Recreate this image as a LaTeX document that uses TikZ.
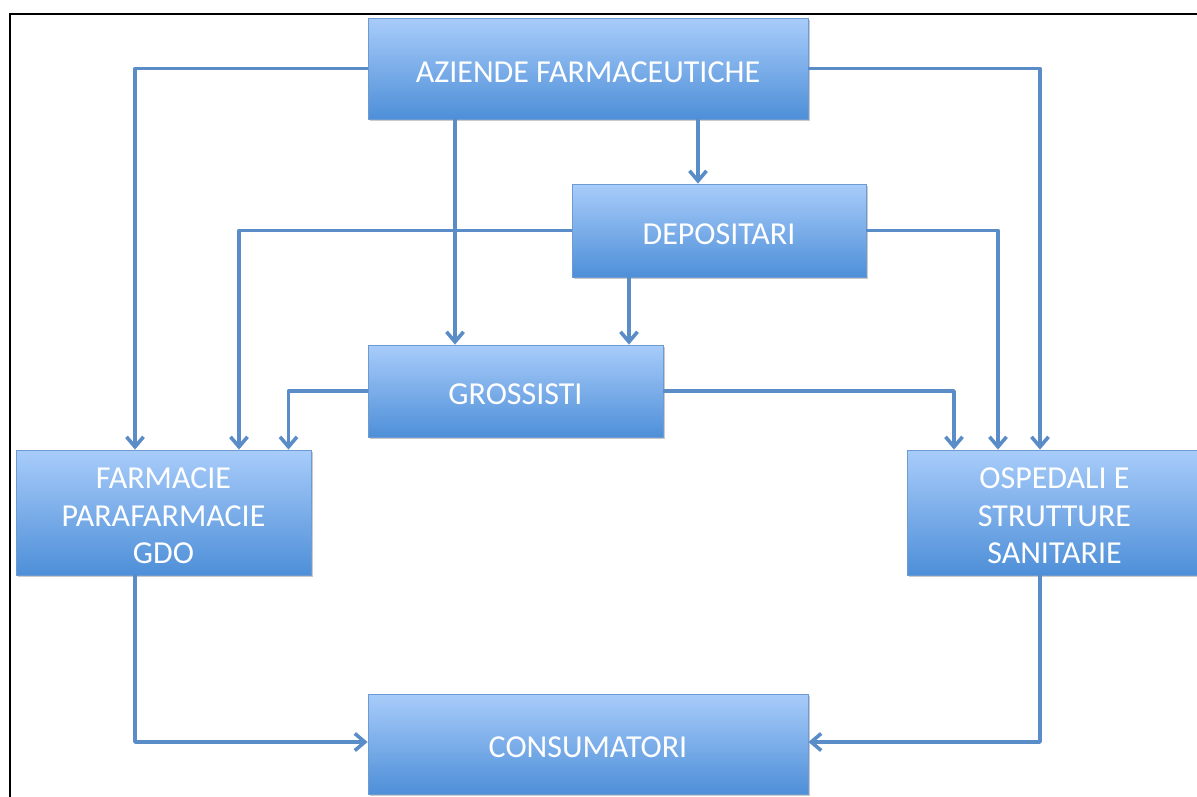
\documentclass[tikz,border=0pt]{standalone}
\usepackage{fontspec}
\setmainfont{Carlito}
\usetikzlibrary{arrows.meta,shadows,calc}
\definecolor{boxtop}{RGB}{168,204,250}
\definecolor{boxbot}{RGB}{78,143,216}
\definecolor{boxline}{RGB}{108,155,212}
\definecolor{conncol}{RGB}{90,140,200}
\begin{document}
\begin{tikzpicture}[x=1pt,y=-1pt,
  box/.style={rectangle, draw=boxline, line width=0.8pt, top color=boxtop, bottom color=boxbot,
    text=white, align=center, inner sep=0pt,
    font=\fontsize{32}{37.5}\selectfont,
    drop shadow={shadow xshift=1.5pt, shadow yshift=-2pt, opacity=0.35, fill=black!60}},
  onebox/.style={box, text height=27pt, text depth=0pt},
  boxtext/.style={text=white, align=center, inner sep=0pt,
    font=\fontsize{32}{37.5}\selectfont, yshift=-3.5pt},
  conn/.style={draw=conncol, line width=3.6pt, line join=round,
    -{Straight Barb[length=10pt, width=17pt, line width=3.6pt]}},
  frame/.style={draw=black, line width=2pt}]
\clip (0,0) rectangle (1197,796);
\useasboundingbox (0,0) rectangle (1197,796);
\draw[frame] (1210,14) -- (10,14) -- (10,810);

\node[onebox, minimum width=440pt, minimum height=101pt] (az) at (588,68.5) {AZIENDE FARMACEUTICHE};
\node[onebox, minimum width=294pt, minimum height=93pt] (dep) at (719,230.5) {DEPOSITARI};
\node[onebox, minimum width=295pt, minimum height=92pt] (gro) at (515.5,391) {GROSSISTI};
\node[box, minimum width=295pt, minimum height=125pt,
  label={[name=fartext, boxtext]center:{FARMACIE\\PARAFARMACIE\\GDO}}] (far) at (163.5,512.5) {};
\node[box, minimum width=295pt, minimum height=125pt,
  label={[name=osptext, boxtext]center:{OSPEDALI E\\STRUTTURE\\SANITARIE}}] (osp) at (1054.5,512.5) {};
\node[onebox, minimum width=440pt, minimum height=100pt] (con) at (588,744) {CONSUMATORI};

% from Aziende
\draw[conn] (az.west) -| ([xshift=-28.5pt]far.north);
\draw[conn] (az.east) -| ([xshift=-14.5pt]osp.north);
\draw[conn] ([xshift=-133pt]az.south) -- ([xshift=-133pt]az.south |- gro.north);
\draw[conn] ([xshift=110pt]az.south) -- ([xshift=110pt]az.south |- dep.north);
% from Depositari
\draw[conn] (dep.west) -| ([xshift=75.5pt]far.north);
\draw[conn] (dep.east) -| ([xshift=-56.5pt]osp.north);
\draw[conn] ([xshift=-90pt]dep.south) -- ([xshift=-90pt]dep.south |- gro.north);
% from Grossisti
\draw[conn] (gro.west) -| ([xshift=125pt]far.north);
\draw[conn] (gro.east) -| ([xshift=-100.5pt]osp.north);
% to Consumatori
\draw[conn] ([xshift=-28.5pt]far.south) |- ([yshift=2pt]con.west);
\draw[conn] ([xshift=-14.5pt]osp.south) |- ([yshift=2pt]con.east);
\end{tikzpicture}
\end{document}
